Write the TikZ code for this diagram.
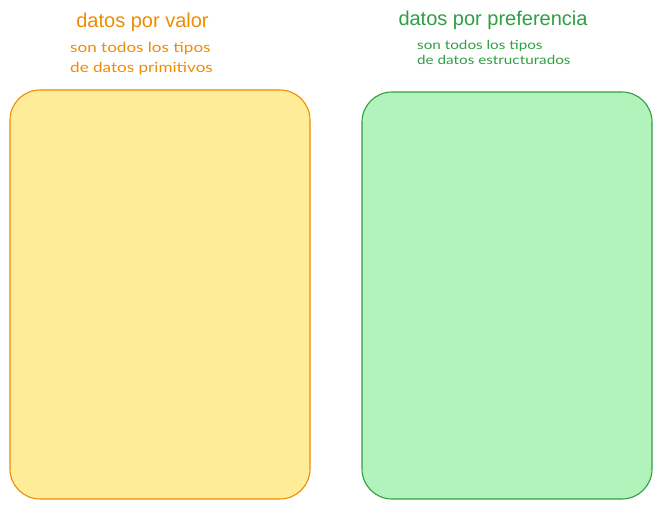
\documentclass[tikz,border=0pt]{standalone}
\usepackage{fontspec}
\setmainfont{Liberation Sans}
\newfontfamily\handfont[FakeStretch=1.22]{Lato}
\definecolor{orstroke}{HTML}{F08C00}
\definecolor{orfill}{HTML}{FFEC99}
\definecolor{grstroke}{HTML}{2F9E44}
\definecolor{grfill}{HTML}{B2F2BB}
\tikzset{
  titletext/.style={inner sep=0pt, font=\fontsize{20bp}{24bp}\selectfont},
  subtext/.style={inner sep=0pt, align=left, anchor=north west},
  panel/.style={line width=1.1bp, rounded corners=30bp}
}
\begin{document}
\begin{tikzpicture}[x=1bp,y=-1bp]
\useasboundingbox (0,0) rectangle (660,509);
\fill[white] (0,0) rectangle (660,509);
% left panel
\draw[panel, draw=orstroke, fill=orfill] (10,90) rectangle (310,499);
\node[titletext, text=orstroke] (t1) at (142.5,22) {datos por valor};
\node[subtext, text=orstroke, font=\handfont\fontsize{14bp}{20bp}\selectfont] (s1) at (70,41.5) {son todos los tipos\\de datos primitivos};
% right panel
\draw[panel, draw=grstroke, fill=grfill] (362,92) rectangle (652,499);
\node[titletext, text=grstroke] (t2) at (493,20.5) {datos por preferencia};
\node[subtext, text=grstroke, font=\handfont\fontsize{12.5bp}{15.5bp}\selectfont] (s2) at (417,40) {son todos los tipos\\de datos estructurados};
\end{tikzpicture}
\end{document}
